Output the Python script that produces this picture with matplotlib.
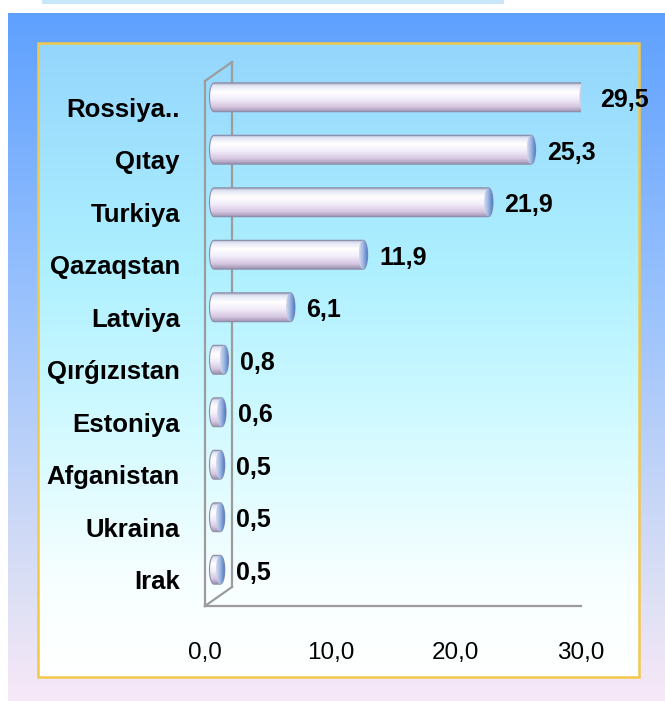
import numpy as np
import matplotlib
matplotlib.use('Agg')
import matplotlib.pyplot as plt
from matplotlib.path import Path
from matplotlib.patches import PathPatch, Ellipse, Rectangle
from matplotlib.colors import LinearSegmentedColormap
from matplotlib.transforms import ScaledTranslation

plt.rcParams['font.family'] = ['Liberation Sans', 'DejaVu Sans']

# --- data ---
countries = ['Rossiya..', 'Qıtay', 'Turkiya', 'Qazaqstan', 'Latviya',
             'Qırǵızıstan', 'Estoniya', 'Afganistan', 'Ukraina', 'Irak']
values = [29.5, 25.3, 21.9, 11.9, 6.1, 0.8, 0.6, 0.5, 0.5, 0.5]
x_ticks = [0, 10, 20, 30]
x_tick_labels = ['0,0', '10,0', '20,0', '30,0']

W, H = 665, 701
fig = plt.figure(figsize=(W / 100, H / 100), dpi=100)
fig.patch.set_facecolor('white')

# --- background panels (pixel coordinates) ---
bg = fig.add_axes([0, 0, 1, 1], zorder=-10)
bg.axis('off')

bg.add_patch(Rectangle((42, 0), 462, 4, color='#c8e8fa', lw=0))

outer_cmap = LinearSegmentedColormap.from_list('outer', [
    (0.0, (0.37, 0.63, 1.0)), (0.45, (0.62, 0.77, 0.99)),
    (0.85, (0.87, 0.88, 0.96)), (1.0, (0.97, 0.91, 0.97))])
grad = np.linspace(0, 1, 256).reshape(-1, 1)
bg.imshow(grad, cmap=outer_cmap, extent=(8, W, H, 13), origin='upper',
          aspect='auto', interpolation='bilinear')

inner_cmap = LinearSegmentedColormap.from_list('inner', [
    (0.0, (0.58, 0.84, 0.99)), (0.35, (0.68, 0.94, 1.0)),
    (0.6, (0.82, 0.98, 1.0)), (0.85, (0.97, 1.0, 1.0)), (1.0, (1, 1, 1))])
bg.imshow(grad, cmap=inner_cmap, extent=(38, 639, 677, 43), origin='upper',
          aspect='auto', interpolation='bilinear')
bg.add_patch(Rectangle((38, 43), 601, 634, fill=False, ec='#f2c84a', lw=1.8))
bg.set_xlim(0, W)
bg.set_ylim(H, 0)

# --- main axes (front plane of the 3D chart) ---
ax = fig.add_axes([205 / W, 1 - 606 / H, 376 / W, 525 / H])
ax.patch.set_visible(False)
n = len(countries)

wall = '#9c9c9c'
for s in ['top', 'right']:
    ax.spines[s].set_visible(False)
for s in ['left', 'bottom']:
    ax.spines[s].set_color(wall)
    ax.spines[s].set_linewidth(1.6)

# depth lines of the 3D wall
dxf, dyf = 27 / 376, 19 / 525
ax.plot([dxf, dxf], [dyf, 1 + dyf], color=wall, lw=1.6, transform=ax.transAxes, clip_on=False, zorder=1)
ax.plot([0, dxf], [1, 1 + dyf], color=wall, lw=1.6, transform=ax.transAxes, clip_on=False, zorder=1)
ax.plot([0, dxf], [0, dyf], color=wall, lw=1.6, transform=ax.transAxes, clip_on=False, zorder=1)

ax.set_xticks(x_ticks)
ax.set_xticklabels(x_tick_labels, fontsize=17.5)
ax.set_yticks(range(n))
ax.set_yticklabels(countries, fontsize=18.5, fontweight='bold')
ax.tick_params(axis='x', length=0, pad=26)
ax.tick_params(axis='y', length=0, pad=18)

# --- cylinder bars ---
tr = ax.transData + ScaledTranslation(9 / 100, 10 / 100, fig.dpi_scale_trans)
px_per_unit = 376 / 30
a = 4.5 / px_per_unit   # half width of end ellipse in data units
h = 0.55

body_cmap = LinearSegmentedColormap.from_list('body', [
    (0.0, (0.62, 0.64, 0.74)), (0.08, (0.88, 0.89, 0.95)),
    (0.3, (1.0, 1.0, 1.0)), (0.55, (0.95, 0.93, 0.98)),
    (0.82, (0.84, 0.78, 0.88)), (1.0, (0.6, 0.56, 0.68))])
cap_cmap = LinearSegmentedColormap.from_list('cap', [
    (0.0, (0.85, 0.87, 0.94)), (0.45, (0.62, 0.72, 0.88)), (1.0, (0.3, 0.47, 0.77))])

t_left = np.linspace(np.pi / 2, 3 * np.pi / 2, 30)
t_right = np.linspace(-np.pi / 2, np.pi / 2, 30)
lbl_tr = ax.transData + ScaledTranslation(25 / 100, 7 / 100, fig.dpi_scale_trans)

for i, v in enumerate(values):
    yc = i
    x0, x1 = 0, v
    left = np.column_stack([x0 + a * np.cos(t_left), yc - h / 2 * np.sin(t_left)])
    right = np.column_stack([x1 + a * np.cos(t_right), yc - h / 2 * np.sin(t_right)])
    verts = np.vstack([left, right, left[:1]])
    codes = [Path.MOVETO] + [Path.LINETO] * (len(verts) - 2) + [Path.CLOSEPOLY]
    body = PathPatch(Path(verts, codes), fc='none', ec=(0.55, 0.55, 0.66), lw=0.8,
                     transform=tr, zorder=4)
    ax.add_patch(body)
    im = ax.imshow(grad, cmap=body_cmap, extent=(x0 - a, x1 + a, yc + h / 2, yc - h / 2),
                   origin='upper', aspect='auto', interpolation='bilinear', zorder=3)
    im.set_transform(tr)
    im.set_clip_path(body)

    cap = Ellipse((x1, yc), 2 * a, h, fc='none', ec='none', transform=tr, zorder=5)
    ax.add_patch(cap)
    im2 = ax.imshow(grad.T, cmap=cap_cmap, extent=(x1 - a, x1 + a, yc + h / 2, yc - h / 2),
                    origin='upper', aspect='auto', interpolation='bilinear', zorder=5)
    im2.set_transform(tr)
    im2.set_clip_path(cap)

    ax.text(v, yc, f'{v:.1f}'.replace('.', ','), transform=lbl_tr,
            ha='left', va='center', fontsize=18, fontweight='bold', zorder=6)

ax.set_xlim(0, 30)
ax.set_ylim(n - 0.5, -0.5)

fig.savefig('out.png', dpi=100)
